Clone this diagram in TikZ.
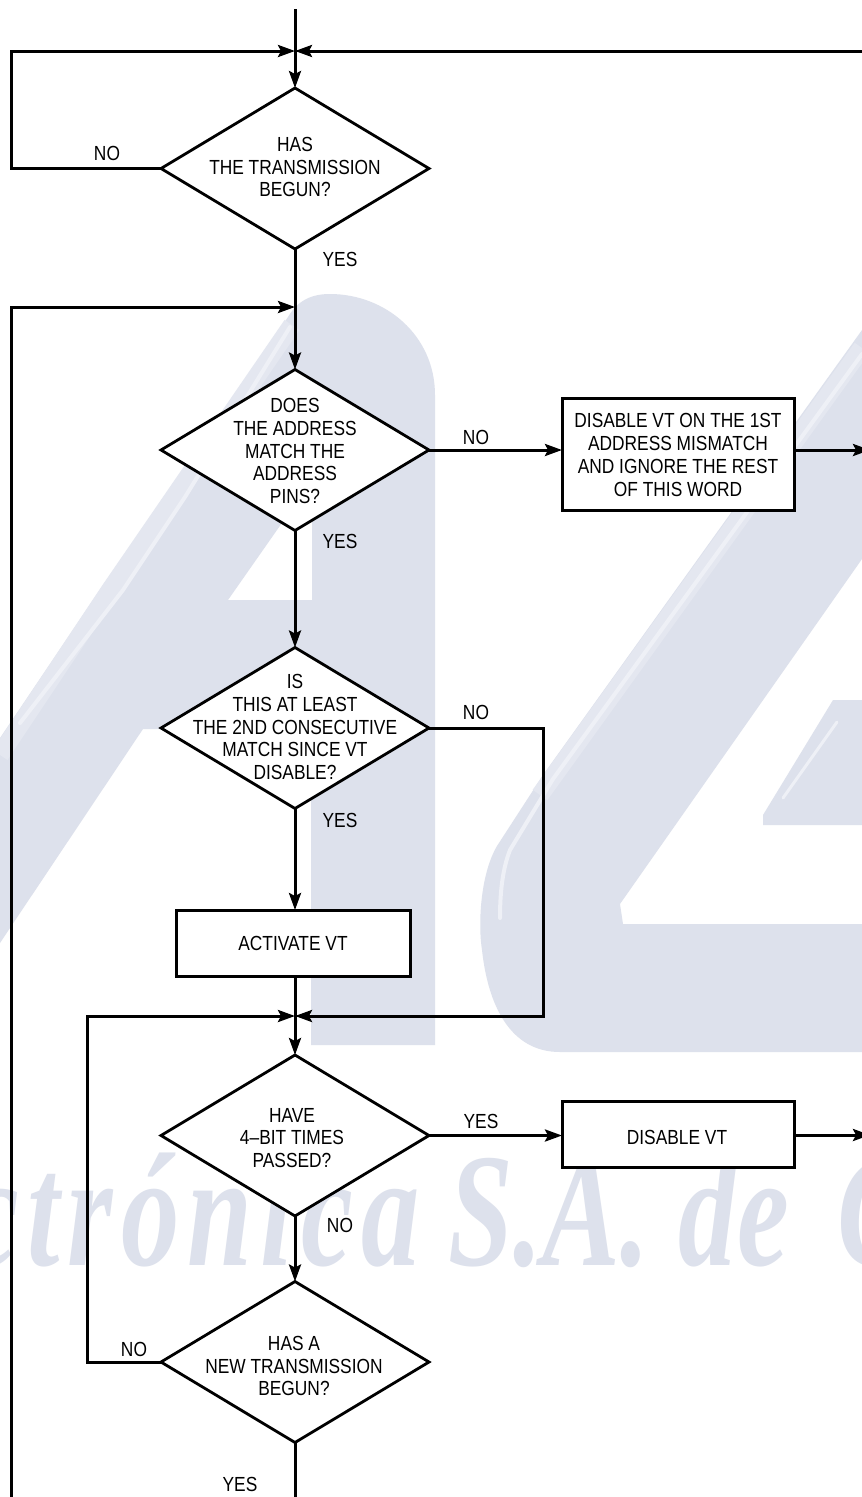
\documentclass[tikz,border=0pt]{standalone}
\usepackage{fontspec}
\setmainfont[FakeStretch=0.85]{Liberation Sans}
\newfontfamily\wmfont[FakeStretch=0.72]{Liberation Serif}
\usetikzlibrary{arrows.meta,shapes.geometric,calc}
\definecolor{wm}{HTML}{DDE1EC}
\definecolor{wmband}{HTML}{E4E7F0}
\definecolor{wmlight}{HTML}{EEF0F6}
\tikzset{
  dia/.style={draw=black,fill=white,line width=2.8pt,shape=diamond,minimum width=268pt,minimum height=161pt,inner sep=0pt,outer sep=0pt,line join=miter},
  boxn/.style={draw=black,fill=white,line width=3pt,minimum width=#1,inner sep=0pt,outer sep=0pt},
  txt/.style={align=center,inner sep=0pt,font=\fontsize{20.4}{22.8}\selectfont},
  lbl/.style={inner sep=0pt,font=\fontsize{20.4}{22.8}\selectfont},
  conn/.style={line width=3pt},
  arr/.style={line width=3pt,-{Stealth[length=17pt,width=12pt,inset=3pt]}},
  streak/.style={wmlight,line width=4pt,line cap=round,line join=round}
}
\begin{document}
\begin{tikzpicture}[x=1pt,y=-1pt]
\useasboundingbox (0,0) rectangle (862,1497);
\fill[white] (0,0) rectangle (862,1497);
% watermark
\fill[wm,even odd rule] (0,943) -- (143,729) -- (311,729) -- (311,1045) -- (435,1045) -- (435,395)
  .. controls (435,335) and (385,294) .. (330,294) .. controls (312,294) and (298,300) .. (288,317)
  -- (100,590) -- (0,738) -- cycle
  (228,600) -- (312,600) -- (312,480) -- cycle;
\fill[wm] (862,330) -- (543,775) -- (497,846) .. controls (480,875) and (478,925) .. (482,950)
  .. controls (488,1005) and (510,1052) .. (560,1052) -- (862,1052) -- (862,924) -- (623,924) -- (620,904) -- (862,559) -- cycle;
\fill[wm] (833,700) -- (862,700) -- (862,825) -- (763,825) -- (763,815) -- cycle;
\draw[wmband,line width=18pt] (0,755) -- (110,590) -- (292,325);
\draw[wmband,line width=18pt] (862,348) -- (540,795);
\draw[streak] (20,723) -- (123,590) -- (185,497) -- (290,327);
\draw[streak] (862,354) -- (553,779) -- (510,850) .. controls (503,868) and (500,890) .. (500,918);
\draw[streak,line width=3pt] (837,722) -- (783,798);
\begin{scope}
\clip (0,0) rectangle (862,1497);
\node[anchor=base east,inner sep=0pt,text=wm,font={\wmfont\bfseries\itshape\fontsize{162}{162}\selectfont}] (wmark) at (916,1265) {{\addfontfeature{LetterSpace=5}ctrónica} S.A. de\hspace{20pt} C};
\end{scope}
% free ends and routing guides
\coordinate (topin) at (295,9);
\coordinate (m1) at (295,51);
\coordinate (m2) at (295,307);
\coordinate (m3) at (295,1016);
\coordinate (rin) at (862,51);
\coordinate (bot) at (295,1497);
\coordinate (lb) at (11,1497);
\coordinate (o1) at (870,450);
\coordinate (o2) at (870,1135);
\coordinate (g1) at (11,0);
\coordinate (g3) at (543,0);
\coordinate (g5) at (87,0);
% shapes
\node[dia] (d1) at (295,168.5) {};
\node[dia] (d2) at (295,450) {};
\node[dia] (d3) at (295,728) {};
\node[dia] (d4) at (295,1135.5) {};
\node[dia] (d5) at (295,1362) {};
\node[boxn=232pt,minimum height=112pt] (b1) at (678,454) {};
\node[boxn=234pt,minimum height=66pt] (act) at (293,943) {};
\node[boxn=232pt,minimum height=66pt] (b2) at (678,1134.5) {};
% connectors
\draw[arr] (topin) -- (d1.north);
\draw[arr] (d1.west) -- (d1.west -| g1) -- (g1 |- m1) -- (m1);
\draw[arr] (rin) -- (m1);
\draw[arr] (d1.south) -- (d2.north);
\draw[arr] (lb) -- (lb |- m2) -- (m2);
\draw[arr] (d2.east) -- (d2.east -| b1.west);
\draw[arr] (d2.east -| b1.east) -- (o1);
\draw[arr] (d2.south) -- (d3.north);
\draw[arr] (d3.south) -- (d3.south |- act.north);
\draw[arr] (d3.east) -- (d3.east -| g3) -- (g3 |- m3) -- (m3);
\draw[arr] (d3.south |- act.south) -- (d4.north);
\draw[arr] (d5.west) -- (d5.west -| g5) -- (g5 |- m3) -- (m3);
\draw[arr] (d4.east) -- (d4.east -| b2.west);
\draw[arr] (o2 -| b2.east) -- (o2);
\draw[arr] (d4.south) -- (d5.north);
\draw[conn] (d5.south) -- (bot);
% texts
\node[txt] (t1) at (295,167) {HAS\\THE TRANSMISSION\\BEGUN?};
\node[txt] (t2) at (295,451) {DOES\\THE ADDRESS\\MATCH THE\\ADDRESS\\PINS?};
\node[txt] (t3) at (295,727) {IS\\THIS AT LEAST\\THE 2ND CONSECUTIVE\\MATCH SINCE VT\\DISABLE?};
\node[txt] (t4) at (292,1138) {HAVE\\4–BIT TIMES\\PASSED?};
\node[txt] (t5) at (294,1366) {HAS A\\NEW TRANSMISSION\\BEGUN?};
\node[txt] (t6) at (678,455) {DISABLE VT ON THE 1ST\\ADDRESS MISMATCH\\AND IGNORE THE REST\\OF THIS WORD};
\node[txt] (t7) at (293,943) {ACTIVATE VT};
\node[txt] (t8) at (677,1137) {DISABLE VT};
\node[lbl] (n1) at (107,153) {NO};
\node[lbl] (y1) at (340,259) {YES};
\node[lbl] (n2) at (476,437) {NO};
\node[lbl] (y2) at (340,541) {YES};
\node[lbl] (n3) at (476,712) {NO};
\node[lbl] (y3) at (340,820) {YES};
\node[lbl] (y4) at (481,1121) {YES};
\node[lbl] (n4) at (340,1225) {NO};
\node[lbl] (n5) at (134,1349) {NO};
\node[lbl] (y5) at (240,1484) {YES};
\end{tikzpicture}
\end{document}
